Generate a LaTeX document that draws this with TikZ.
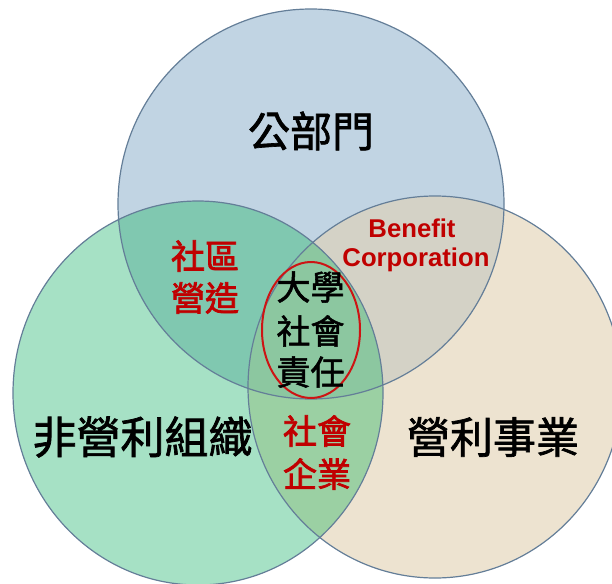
\documentclass[tikz,border=0pt]{standalone}
\usepackage{fontspec}
\newfontfamily\cjk[FakeBold=1.6]{Noto Sans CJK TC}
\newfontfamily\cjkred[FakeBold=2.2]{Noto Sans CJK TC}
\newfontfamily\lat{Liberation Sans}
\definecolor{blueC}{RGB}{193,212,227}
\definecolor{greenC}{RGB}{166,225,197}
\definecolor{tanC}{RGB}{237,227,208}
\definecolor{bgC}{RGB}{128,200,176}
\definecolor{btC}{RGB}{212,210,198}
\definecolor{gtC}{RGB}{155,208,163}
\definecolor{allC}{RGB}{140,199,160}
\definecolor{edgeC}{RGB}{100,126,152}
\definecolor{redC}{RGB}{192,0,0}
\definecolor{redE}{RGB}{205,20,20}
\tikzset{
  edge/.style={draw=edgeC, line width=1.2pt},
  bigtxt/.style={inner sep=0pt, font={\cjk\fontsize{42}{48}\selectfont}},
  midtxt/.style={inner sep=0pt, font={\cjk\fontsize{34}{40}\selectfont}},
  redtxt/.style={inner sep=0pt, text=redC, font={\cjkred\fontsize{34}{40}\selectfont}},
  entxt/.style={inner sep=0pt, anchor=base, text=redC, font={\lat\bfseries\fontsize{25.7}{30}\selectfont}},
}
\begin{document}
\begin{tikzpicture}[x=1pt,y=-1pt]
\useasboundingbox (0,0) rectangle (612,583);
\def\topE{(311,204) ellipse [x radius=193pt, y radius=195pt]}
\def\leftE{(198,393) ellipse [x radius=185pt, y radius=192pt]}
\def\rightE{(435,387) ellipse [x radius=187pt, y radius=191pt]}
% solo fills
\fill[blueC] \topE;
\fill[greenC] \leftE;
\fill[tanC] \rightE;
% pair overlaps
\begin{scope}
  \clip \topE;
  \fill[bgC] \leftE;
  \fill[btC] \rightE;
\end{scope}
\begin{scope}
  \clip \leftE;
  \fill[gtC] \rightE;
\end{scope}
\begin{scope}
  \clip \topE;
  \clip \leftE;
  \fill[allC] \rightE;
\end{scope}
% outlines
\draw[edge] \topE;
\draw[edge] \leftE;
\draw[edge] \rightE;
% red ellipse
\draw[draw=redE, line width=2pt] (311,330) ellipse [x radius=49pt, y radius=68pt];
% texts
\node[bigtxt] (pub) at (311,131) {公部門};
\node[bigtxt, font={\cjk\fontsize{44}{48}\selectfont}] (npo) at (142.5,437) {非營利組織};
\node[bigtxt, font={\cjk\fontsize{43}{48}\selectfont}] (biz) at (493,437) {營利事業};
\node[redtxt] (c1) at (205,256) {社區};
\node[redtxt] (c2) at (205,298) {營造};
\node[midtxt] (u1) at (310.5,287) {大學};
\node[midtxt] (u2) at (310.5,331) {社會};
\node[midtxt] (u3) at (310.5,372) {責任};
\node[redtxt] (s1) at (317,431) {社會};
\node[redtxt] (s2) at (317,474) {企業};
\node[entxt] (b1) at (412,237) {Benefit};
\node[entxt] (b2) at (416,266.5) {Corporation};
\end{tikzpicture}
\end{document}
